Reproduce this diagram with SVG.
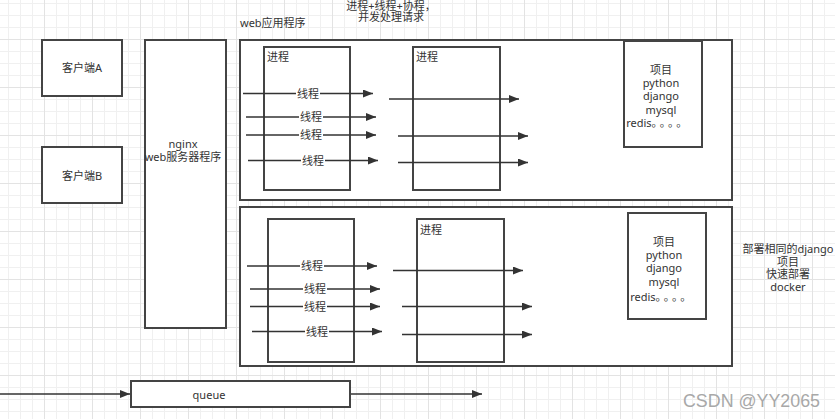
<svg xmlns="http://www.w3.org/2000/svg" width="835" height="419" viewBox="0 0 835 419">
<defs>
<pattern id="grid" patternUnits="userSpaceOnUse" x="44" y="39" width="48" height="48">
<path d="M12.5 0V48M24.5 0V48M36.5 0V48M0 12.5H48M0 24.5H48M0 36.5H48" stroke="#f0f0f0" stroke-width="1" fill="none"/>
<path d="M0.5 0V48M0 0.5H48" stroke="#e3e3e3" stroke-width="1" fill="none"/>
</pattern>
<marker id="arr" markerUnits="userSpaceOnUse" markerWidth="12" markerHeight="10" refX="10" refY="4" orient="auto">
<path d="M0 0L10 4L0 8Z" fill="#333"/>
</marker>
<style>
.box{fill:#fff;stroke:#444;stroke-width:2}
.in{fill:none;stroke:#444;stroke-width:2}
.t{font-family:"Noto Sans","Noto Sans CJK SC",sans-serif;font-size:11px;fill:#333;text-anchor:middle}
.tl{font-family:"Noto Sans","Noto Sans CJK SC",sans-serif;font-size:11px;fill:#333}
.ln{stroke:#333;stroke-width:1.5;fill:none;marker-end:url(#arr)}
.lb{fill:#fff}
.dots{letter-spacing:2.7px}
</style>
</defs>
<rect width="835" height="419" fill="#fff"/>
<rect width="835" height="419" fill="url(#grid)"/>

<text class="tl" x="240" y="26.5">web应用程序</text>
<text class="t" x="391" y="10">进程+线程+协程，</text>
<text class="t" x="391" y="21">并发处理请求</text>

<g id="clientA"><rect class="box" x="42" y="40" width="80" height="56"/><text class="t" x="82" y="72">客户端A</text></g>
<g id="clientB"><rect class="box" x="42" y="147" width="80" height="56"/><text class="t" x="82" y="179.5">客户端B</text></g>
<g id="nginx"><rect class="box" x="145" y="40" width="81" height="288"/><text class="t" x="183" y="148">nginx</text><text class="t" x="183" y="160.5">web服务器程序</text></g>

<g id="web1"><rect class="box" x="240" y="40" width="492" height="160"/></g>
<g id="web1-proc1"><rect class="in" x="264" y="47" width="86" height="143"/><text class="tl" x="267" y="61">进程</text></g>
<g id="web1-proc2"><rect class="in" x="413" y="47" width="87" height="143"/><text class="tl" x="416" y="61">进程</text></g>
<g id="web1-proj"><rect class="box" x="624" y="41" width="78" height="106"/>
<text class="t" x="661" y="74">项目</text><text class="t" x="661" y="87">python</text><text class="t" x="661" y="100">django</text><text class="t" x="661" y="113.5">mysql</text><text class="t" x="658" y="127">redis<tspan class="dots">。。。。</tspan></text></g>

<g id="web2"><rect class="box" x="240" y="207" width="492" height="159"/></g>
<g id="web2-proc1"><rect class="in" x="268" y="219" width="86" height="143"/></g>
<g id="web2-proc2"><rect class="in" x="417" y="219" width="87" height="143"/><text class="tl" x="420" y="234">进程</text></g>
<g id="web2-proj"><rect class="box" x="628" y="213" width="78" height="106"/>
<text class="t" x="664" y="245.5">项目</text><text class="t" x="664" y="259">python</text><text class="t" x="664" y="272">django</text><text class="t" x="664" y="286">mysql</text><text class="t" x="662" y="300.5">redis<tspan class="dots">。。。。</tspan></text></g>

<g id="note"><text class="t" x="788" y="253">部署相同的django</text><text class="t" x="788" y="265.5">项目</text><text class="t" x="788" y="278">快速部署</text><text class="t" x="788" y="290.5">docker</text></g>

<g id="queue"><rect class="box" x="131" y="381" width="219" height="26"/><text class="t" x="209" y="398.5">queue</text></g>

<g id="connectors">
<path class="ln" d="M243 93.5H373"/>
<path class="ln" d="M246 117H376"/>
<path class="ln" d="M246 135H376"/>
<path class="ln" d="M248 160.5H378"/>
<path class="ln" d="M389 99H519"/>
<path class="ln" d="M398 136H528"/>
<path class="ln" d="M398 162.5H528"/>
<rect class="lb" x="296" y="87" width="24" height="13"/><text class="t" x="308" y="97.5">线程</text>
<rect class="lb" x="299" y="110.5" width="24" height="13"/><text class="t" x="311" y="121">线程</text>
<rect class="lb" x="299" y="128.5" width="24" height="13"/><text class="t" x="311" y="139">线程</text>
<rect class="lb" x="301" y="154" width="24" height="13"/><text class="t" x="313" y="164.5">线程</text>

<path class="ln" d="M247 266H377"/>
<path class="ln" d="M250 289H380"/>
<path class="ln" d="M250 306.5H380"/>
<path class="ln" d="M252 331.5H382"/>
<path class="ln" d="M393 270.5H523"/>
<path class="ln" d="M402 306.5H532"/>
<path class="ln" d="M402 334.5H532"/>
<rect class="lb" x="300" y="259.5" width="24" height="13"/><text class="t" x="312" y="270">线程</text>
<rect class="lb" x="303" y="282.5" width="24" height="13"/><text class="t" x="315" y="293">线程</text>
<rect class="lb" x="303" y="300" width="24" height="13"/><text class="t" x="315" y="310.5">线程</text>
<rect class="lb" x="305" y="325" width="24" height="13"/><text class="t" x="317" y="335.5">线程</text>

<path class="ln" d="M0 394H130"/>
<path class="ln" d="M351 394H482"/>
</g>

<text x="683" y="407" font-family="'Liberation Sans Narrow','Liberation Sans',sans-serif" font-size="19" fill="#a8a8a8" textLength="137" lengthAdjust="spacingAndGlyphs">CSDN @YY2065</text>
</svg>
